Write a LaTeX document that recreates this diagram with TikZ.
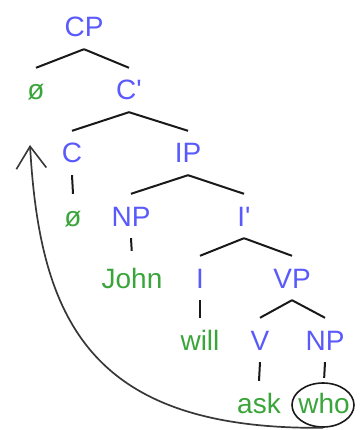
\documentclass[tikz,border=0pt]{standalone}
\usepackage{fontspec}
\setmainfont{Liberation Sans}
\usetikzlibrary{arrows.meta,shapes.geometric}
\definecolor{catblue}{RGB}{90,90,252}
\definecolor{wordgreen}{RGB}{58,165,58}
\definecolor{branch}{RGB}{25,25,25}
\definecolor{movearrow}{RGB}{55,55,55}
\tikzset{
  lbl/.style={anchor=base, inner sep=0pt, text height=32pt, text depth=12pt,
              font=\fontsize{28}{30}\selectfont},
  cat/.style={lbl, text=catblue},
  word/.style={lbl, text=wordgreen},
  edge/.style={draw=branch, line width=2pt},
  ring/.style={draw=branch, ellipse, line width=1.6pt, minimum width=62pt, minimum height=44pt, inner sep=0pt},
  move/.style={draw=movearrow, line width=1.7pt, -{Straight Barb[length=22pt,width=30pt,line width=1.6pt]}}
}
\begin{document}
\begin{tikzpicture}[x=1pt,y=-1pt]
\useasboundingbox (0,0) rectangle (359,430);
% row baselines: 37, 100, 163, 226, 288, 350, 413
\node[cat]  (CP)   at (84,37)  {CP};
\node[word] (phi1) at (36,100) {ø};
\node[cat]  (Cbar) at (129,100) {C\textquotesingle};
\node[cat]  (C)    at (72,163) {C};
\node[cat]  (IP)   at (188,163) {IP};
\node[word] (phi2) at (73,226) {ø};
\node[cat]  (NP1)  at (131,226) {NP};
\node[cat]  (Ibar) at (244,226) {I\textquotesingle};
\node[word] (John) at (132,288) {John};
\node[cat]  (I)    at (200,288) {I};
\node[cat]  (VP)   at (292,288) {VP};
\node[word] (will) at (200,350) {will};
\node[cat]  (V)    at (260,350) {V};
\node[cat]  (NP2)  at (325,350) {NP};
\node[word] (ask)  at (259,413) {ask};
\node[word] (who)  at (324,413) {who};
\node[ring] (whoring) at (323,405) {};
\coordinate (trace) at (30,145);

\draw[edge] (CP.south) -- (phi1.north);
\draw[edge] (CP.south) -- (Cbar.north);
\draw[edge] (Cbar.south) -- (C.north);
\draw[edge] (Cbar.south) -- (IP.north);
\draw[edge] (C.south) -- (phi2.north);
\draw[edge] (IP.south) -- (NP1.north);
\draw[edge] (IP.south) -- (Ibar.north);
\draw[edge, shorten >=5pt] (NP1.south) -- (John.north);
\draw[edge] (Ibar.south) -- (I.north);
\draw[edge] (Ibar.south) -- (VP.north);
\draw[edge] (I.south) -- (will.north);
\draw[edge] (VP.south) -- (V.north);
\draw[edge] (VP.south) -- (NP2.north);
\draw[edge] (V.south) -- (ask.north);
\draw[edge, shorten >=3pt] (NP2.south) -- (who.north);

\draw[move] (whoring.south) .. controls (90,430) and (40,320) .. (trace);
\end{tikzpicture}
\end{document}
